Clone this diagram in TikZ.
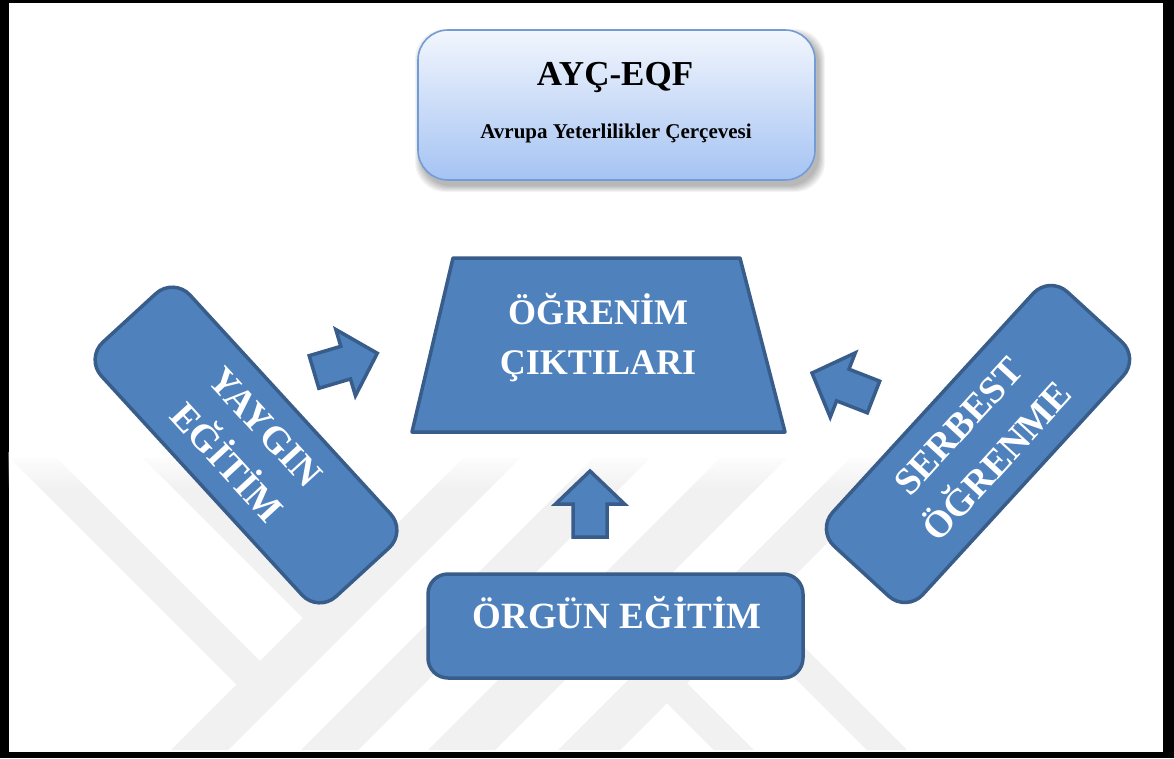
\documentclass[tikz,border=0pt]{standalone}
\usepackage{fontspec}
\setmainfont{Liberation Serif}
\usetikzlibrary{calc,fadings}

\definecolor{boxfill}{HTML}{4F81BD}
\definecolor{boxline}{HTML}{385D8A}
\definecolor{eqftop}{HTML}{F2F6FD}
\definecolor{eqfbot}{HTML}{A5C3F3}
\definecolor{eqfline}{HTML}{739CD6}
\definecolor{wm}{RGB}{241,241,241}

\tikzset{
  bluebox/.style={draw=boxline, fill=boxfill, line width=3.5pt, rounded corners=24pt,
    text=white, align=center, font=\fontsize{38}{52}\selectfont\bfseries},
  blockarrow/.style={draw=boxline, fill=boxfill, line width=3.5pt, line join=miter},
  wmband/.style={fill=wm},
  whitetext/.style={text=white, font=\fontsize{36}{50}\selectfont\bfseries, inner sep=0pt}
}

% block arrow pointing along local +x, tail centre at the origin
\newcommand{\blockarrowpath}{(0,-17) -- (33,-17) -- (33,-34.5) -- (66,0) -- (33,34.5) -- (33,17) -- (0,17) -- cycle}

\begin{document}
\begin{tikzpicture}[x=1pt,y=-1pt]
\useasboundingbox (0,0) rectangle (1174,758);

% frame
\fill[black] (0,0) rectangle (1174,758);
\fill[white] (8.5,3) rectangle (1163,752);

% faint background emblem
\begin{scope}
  \clip (8.5,3) rectangle (1163,752);
  \fill[wmband] (10,458) -- (57,458) -- (260,661) -- (236.5,684.5) -- cycle;
  \fill[wmband] (143,458) -- (187,458) -- (325,596) -- (303,618) -- cycle;
  \fill[wmband] (463,458) -- (520,458) -- (228,750) -- (171,750) -- cycle;
  \fill[wmband] (593,458) -- (650,458) -- (358,750) -- (301,750) -- cycle;
  \fill[wmband] (720,458) -- (787,458) -- (495,750) -- (428,750) -- cycle;
  \fill[wmband] (850,458) -- (912,458) -- (620,750) -- (558,750) -- cycle;
  \fill[wmband] (748,591) -- (907,750) -- (867,750) -- (728,611) -- cycle;
  \fill[wmband] (687,683) -- (754,750) -- (714,750) -- (667,703) -- cycle;
  % soft upper edge of the emblem
  \fill[white, path fading=south] (8.5,452) rectangle (1163,490);
\end{scope}

% framework box with soft shadow
\foreach \k in {0,...,6}{
  \fill[black, opacity=0.045, rounded corners=30pt] (421-\k,35-\k) rectangle (819+\k,186+\k);
}
\node[draw=eqfline, line width=1.6pt, rounded corners=30pt, top color=eqftop, bottom color=eqfbot,
      minimum width=397pt, minimum height=150pt, inner sep=0pt] (eqf) at (616.5,105) {};
\node[anchor=base, inner sep=0pt, font=\fontsize{35}{40}\selectfont\bfseries] (eqftitle) at (615,85) {AYÇ-EQF};
\node[anchor=base, inner sep=0pt, font=\fontsize{21}{24}\selectfont\bfseries] (eqfsub) at (616,138) {Avrupa Yeterlilikler Çerçevesi};

% learning outcomes trapezoid
\draw[draw=boxline, fill=boxfill, line width=3.5pt, line join=round] (453,258) -- (740,258) -- (785,432) -- (412,432) -- cycle;
\node[whitetext, anchor=base] (lo1) at (598,324) {ÖĞRENİM};
\node[whitetext, anchor=base] (lo2) at (598,374) {ÇIKTILARI};

% the three learning routes
\node[bluebox, minimum width=345pt, minimum height=120pt, rotate=-47.5] (yaygin) at (246,445) {YAYGIN\\EĞİTİM};
\node[bluebox, minimum width=345pt, minimum height=122pt, rotate=47.5] (serbest) at (978,444) {SERBEST\\ÖĞRENME};
\node[bluebox, rounded corners=20pt, minimum width=375pt, minimum height=104pt] (orgun) at (615.5,626) {};
\node[anchor=base, inner sep=0pt, text=white, font=\fontsize{37}{40}\selectfont\bfseries] (orguntext) at (617,628) {ÖRGÜN EĞİTİM};

% block arrows towards the outcomes
\begin{scope}[shift={(314,372)}, rotate=16.5]
  \draw[blockarrow] \blockarrowpath;
\end{scope}
\begin{scope}[shift={(873.5,397)}, rotate=158.7]
  \draw[blockarrow] \blockarrowpath;
\end{scope}
\begin{scope}[shift={(590,537)}, rotate=90]
  \draw[blockarrow] \blockarrowpath;
\end{scope}
\end{tikzpicture}
\end{document}
